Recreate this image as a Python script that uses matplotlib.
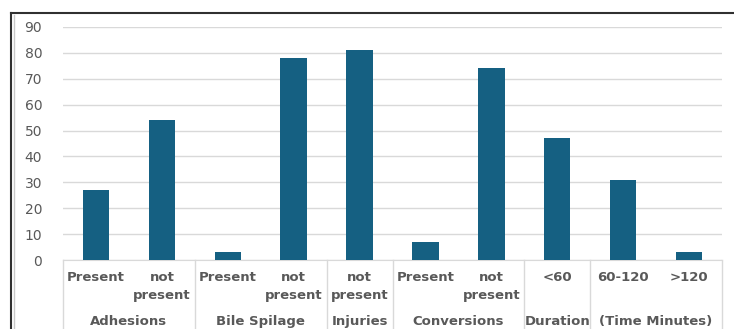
import matplotlib.pyplot as plt
from matplotlib.lines import Line2D
from matplotlib.transforms import blended_transform_factory

# inner labels (one per bar) and outer group labels
sub_labels = ["Present", "not\npresent", "Present", "not\npresent", "not\npresent",
              "Present", "not\npresent", "<60", "60-120", ">120"]
values = [27, 54, 3, 78, 81, 7, 74, 47, 31, 3]
groups = ["Adhesions", "Bile Spilage", "Injuries", "Conversions", "Duration", "(Time Minutes)"]
group_sizes = [2, 2, 1, 2, 1, 2]

bar_color = "#156082"
text_color = "#595959"
grid_color = "#d9d9d9"

fig = plt.figure(figsize=(7.34, 3.29), dpi=100)
ax = fig.add_axes([63 / 734, 1 - 260 / 329, (722 - 63) / 734, (260 - 27) / 329])

x = list(range(len(values)))
ax.bar(x, values, width=0.4, color=bar_color, zorder=3)

ax.set_xlim(-0.5, len(values) - 0.5)
ax.set_ylim(0, 90)
ax.set_yticks(range(0, 91, 10))
ax.yaxis.grid(True, color=grid_color, linewidth=1)
ax.set_axisbelow(True)
ax.tick_params(axis="y", length=0, pad=15, labelsize=10, labelcolor=text_color)
ax.set_xticks([])
for s in ["top", "right", "left"]:
    ax.spines[s].set_visible(False)
ax.spines["bottom"].set_color(grid_color)

trans = blended_transform_factory(ax.transData, ax.transAxes)
px = 1 / 233  # one pixel in axes-fraction units (vertical)

# first level category labels
for i, lab in enumerate(sub_labels):
    ax.text(i, -11 * px, lab, transform=trans, ha="center", va="top",
            fontsize=9.5, fontweight="bold", color=text_color, linespacing=1.55)

# group labels and separators
start = -0.5
ax.plot([start, start], [0, -75 * px], transform=trans, color=grid_color,
        lw=1, clip_on=False)
for g, n in zip(groups, group_sizes):
    end = start + n
    ax.text((start + end) / 2, -65 * px, g, transform=trans, ha="center",
            va="baseline", fontsize=9.5, fontweight="bold", color=text_color)
    ax.plot([end, end], [0, -75 * px], transform=trans, color=grid_color,
            lw=1, clip_on=False)
    start = end

# outer frame
ytop = 1 - 13 / 329
fig.add_artist(Line2D([11 / 734, 1], [ytop, ytop], color="#303030", lw=1.5))
fig.add_artist(Line2D([11 / 734, 11 / 734], [0, ytop], color="#303030", lw=1.5))
fig.add_artist(Line2D([14 / 734, 14 / 734], [0, ytop - 2 / 329], color="#c8c8c8", lw=1))

fig.savefig("out.png", dpi=100)
